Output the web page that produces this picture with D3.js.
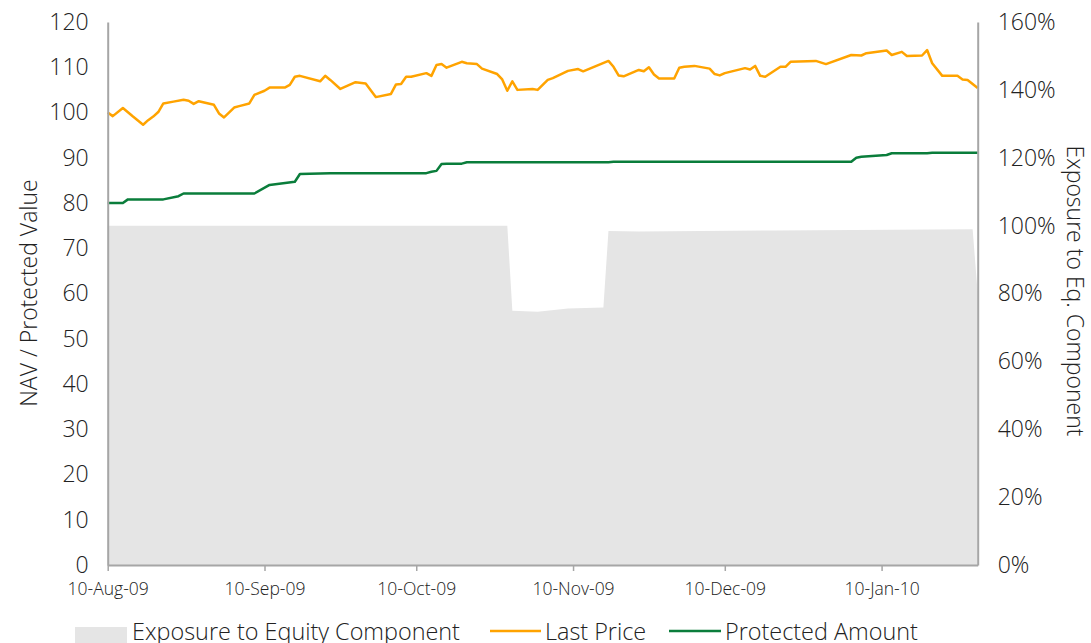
<!DOCTYPE html>
<html>
<head>
<meta charset="utf-8">
<script src="https://cdn.jsdelivr.net/npm/d3@7"></script>
<style>
  body { margin: 0; background: #fff; }
  svg { display: block; font-family: "Open Sans", sans-serif; font-weight: 300; }
</style>
</head>
<body>
<svg id="chart" width="1091" height="643"></svg>
<script>
// Last Price (NAV)
var priceDates = ["2009-08-10","2009-08-11","2009-08-13","2009-08-15","2009-08-17","2009-08-18","2009-08-19","2009-08-20","2009-08-21","2009-08-23","2009-08-25","2009-08-26","2009-08-27","2009-08-28","2009-08-31","2009-09-01","2009-09-02","2009-09-04","2009-09-05","2009-09-07","2009-09-08","2009-09-10","2009-09-11","2009-09-14","2009-09-15","2009-09-16","2009-09-17","2009-09-21","2009-09-22","2009-09-23","2009-09-25","2009-09-28","2009-09-30","2009-10-02","2009-10-05","2009-10-06","2009-10-07","2009-10-08","2009-10-09","2009-10-12","2009-10-13","2009-10-14","2009-10-15","2009-10-16","2009-10-19","2009-10-20","2009-10-22","2009-10-23","2009-10-26","2009-10-27","2009-10-28","2009-10-29","2009-10-30","2009-11-02","2009-11-03","2009-11-05","2009-11-06","2009-11-09","2009-11-11","2009-11-12","2009-11-17","2009-11-18","2009-11-19","2009-11-20","2009-11-23","2009-11-24","2009-11-25","2009-11-26","2009-11-27","2009-11-30","2009-12-01","2009-12-02","2009-12-04","2009-12-07","2009-12-08","2009-12-09","2009-12-10","2009-12-14","2009-12-15","2009-12-16","2009-12-17","2009-12-18","2009-12-21","2009-12-22","2009-12-23","2009-12-28","2009-12-30","2010-01-04","2010-01-06","2010-01-07","2010-01-11","2010-01-12","2010-01-14","2010-01-15","2010-01-18","2010-01-19","2010-01-20","2010-01-22","2010-01-25","2010-01-26","2010-01-27","2010-01-29"];
var priceValues = [100.0,99.2,101.0,99.1,97.3,98.3,99.1,100.1,102.0,102.4,102.8,102.6,101.9,102.5,101.7,99.8,98.9,101.1,101.4,102.0,103.9,104.8,105.5,105.5,106.1,107.9,108.1,106.9,108.1,107.2,105.2,106.7,106.4,103.4,104.1,106.2,106.3,107.9,107.9,108.7,108.1,110.5,110.7,109.9,111.2,110.9,110.7,109.7,108.5,107.3,104.8,106.9,105.0,105.2,105.0,107.2,107.6,109.2,109.6,109.1,111.4,110.1,108.2,108.0,109.4,109.1,110.0,108.4,107.5,107.5,109.9,110.1,110.3,109.7,108.5,108.2,108.7,109.8,109.5,110.3,108.1,107.9,110.1,110.1,111.2,111.4,110.7,112.7,112.6,113.1,113.7,112.7,113.4,112.5,112.6,113.8,110.9,108.1,108.1,107.3,107.2,105.4];

// Protected Amount
var protDates = ["2009-08-10","2009-08-13","2009-08-14","2009-08-21","2009-08-24","2009-08-25","2009-09-08","2009-09-11","2009-09-16","2009-09-17","2009-09-23","2009-10-12","2009-10-13","2009-10-14","2009-10-15","2009-10-16","2009-10-19","2009-10-20","2009-11-17","2009-11-18","2010-01-04","2010-01-05","2010-01-06","2010-01-11","2010-01-12","2010-01-19","2010-01-20","2010-01-29"];
var protValues = [80.0,80.0,80.8,80.8,81.5,82.1,82.1,84.0,84.7,86.4,86.6,86.6,86.9,87.1,88.6,88.7,88.7,89.0,89.0,89.1,89.1,90.0,90.2,90.6,91.0,91.0,91.1,91.1];

// Exposure to Equity Component (right axis)
var expoDates = ["2009-08-10","2009-10-28","2009-10-29","2009-11-03","2009-11-09","2009-11-16","2009-11-17","2009-11-23","2009-12-20","2010-01-28","2010-01-29"];
var expoValues = [1.00,1.00,0.749,0.746,0.756,0.759,0.984,0.983,0.986,0.989,0.80];

var xTickDates = ["2009-08-10","2009-09-10","2009-10-10","2009-11-10","2009-12-10","2010-01-10"];
var leftTicks = [0,10,20,30,40,50,60,70,80,90,100,110,120];
var rightTicks = [0,0.2,0.4,0.6,0.8,1.0,1.2,1.4,1.6];
var legendLabels = ["Exposure to Equity Component","Last Price","Protected Amount"];

var parse = d3.utcParse("%Y-%m-%d");
var zip = function(ds, vs) {
    return ds.map(function(d, i) { return {date: parse(d), value: vs[i]}; });
};
var price = zip(priceDates, priceValues);
var prot = zip(protDates, protValues);
var expo = zip(expoDates, expoValues);

var svg = d3.select("#chart");
var plotLeft = 107.7, plotRight = 977.7, plotTop = 22, plotBottom = 565;

var x = d3.scaleUtc()
    .domain([parse("2009-08-10"), parse("2010-01-29")])
    .range([plotLeft, plotRight]);
var y = d3.scaleLinear().domain([0, 120]).range([plotBottom, plotTop]);
var y2 = d3.scaleLinear().domain([0, 1.6]).range([plotBottom, plotTop]);

// exposure area
svg.append("path")
    .datum(expo)
    .attr("fill", "#e5e5e5")
    .attr("d", d3.area()
        .x(function(d) { return x(d.date); })
        .y0(plotBottom)
        .y1(function(d) { return y2(d.value); }));

var line = function(scale) {
    return d3.line()
        .x(function(d) { return x(d.date); })
        .y(function(d) { return scale(d.value); });
};

svg.append("path").datum(prot)
    .attr("fill", "none").attr("stroke", "#0a7d3b").attr("stroke-width", 2.5)
    .attr("stroke-linejoin", "round")
    .attr("d", line(y));

svg.append("path").datum(price)
    .attr("fill", "none").attr("stroke", "#ffa300").attr("stroke-width", 2.5)
    .attr("stroke-linejoin", "round")
    .attr("d", line(y));

// axes
var axisColor = "#a6a6a6";
var font = "Open Sans, sans-serif";
var xAxis = svg.append("g")
    .attr("transform", "translate(0," + plotBottom + ")")
    .call(d3.axisBottom(x)
        .tickValues(xTickDates.map(parse))
        .tickFormat(d3.utcFormat("%d-%b-%y"))
        .tickSize(6).tickSizeOuter(0).tickPadding(12));
xAxis.select(".domain").attr("stroke", axisColor).attr("stroke-width", 2);
xAxis.selectAll(".tick line").attr("stroke", axisColor).attr("stroke-width", 1.5);
xAxis.selectAll("text").attr("font-size", 17.5).attr("fill", "#222")
    .attr("font-family", font).attr("font-weight", 300);

var yAxis = svg.append("g")
    .attr("transform", "translate(" + plotLeft + ",0)")
    .call(d3.axisLeft(y).tickValues(leftTicks).tickSize(0).tickPadding(19));
yAxis.select(".domain").attr("stroke", axisColor).attr("stroke-width", 2);
yAxis.selectAll("text").attr("font-size", 23).attr("fill", "#222")
    .attr("font-family", font).attr("font-weight", 300);

var y2Axis = svg.append("g")
    .attr("transform", "translate(" + plotRight + ",0)")
    .call(d3.axisRight(y2).tickValues(rightTicks).tickSize(0).tickPadding(20)
        .tickFormat(d3.format(".0%")));
y2Axis.select(".domain").attr("stroke", axisColor).attr("stroke-width", 2);
y2Axis.selectAll("text").attr("font-size", 23).attr("fill", "#222")
    .attr("font-family", font).attr("font-weight", 300);

// axis titles
svg.append("text")
    .attr("transform", "translate(28,293) rotate(-90)")
    .attr("text-anchor", "middle").attr("dominant-baseline", "central")
    .attr("font-size", 23).attr("fill", "#222")
    .text("NAV / Protected Value");
svg.append("text")
    .attr("transform", "translate(1076,291) rotate(90)")
    .attr("text-anchor", "middle").attr("dominant-baseline", "central")
    .attr("font-size", 23).attr("fill", "#222")
    .text("Exposure to Eq. Component");

// legend
var lg = svg.append("g").attr("font-size", 23.4).attr("fill", "#222");
lg.append("rect").attr("x", 75).attr("y", 627).attr("width", 52).attr("height", 16).attr("fill", "#e5e5e5");
lg.append("text").attr("x", 132).attr("y", 640).text(legendLabels[0]);
lg.append("line").attr("x1", 490).attr("x2", 541).attr("y1", 631).attr("y2", 631)
    .attr("stroke", "#ffa300").attr("stroke-width", 2.5);
lg.append("text").attr("x", 545).attr("y", 640).text(legendLabels[1]);
lg.append("line").attr("x1", 669).attr("x2", 721).attr("y1", 631).attr("y2", 631)
    .attr("stroke", "#0a7d3b").attr("stroke-width", 2.5);
lg.append("text").attr("x", 725).attr("y", 640).text(legendLabels[2]);
</script>
</body>
</html>
